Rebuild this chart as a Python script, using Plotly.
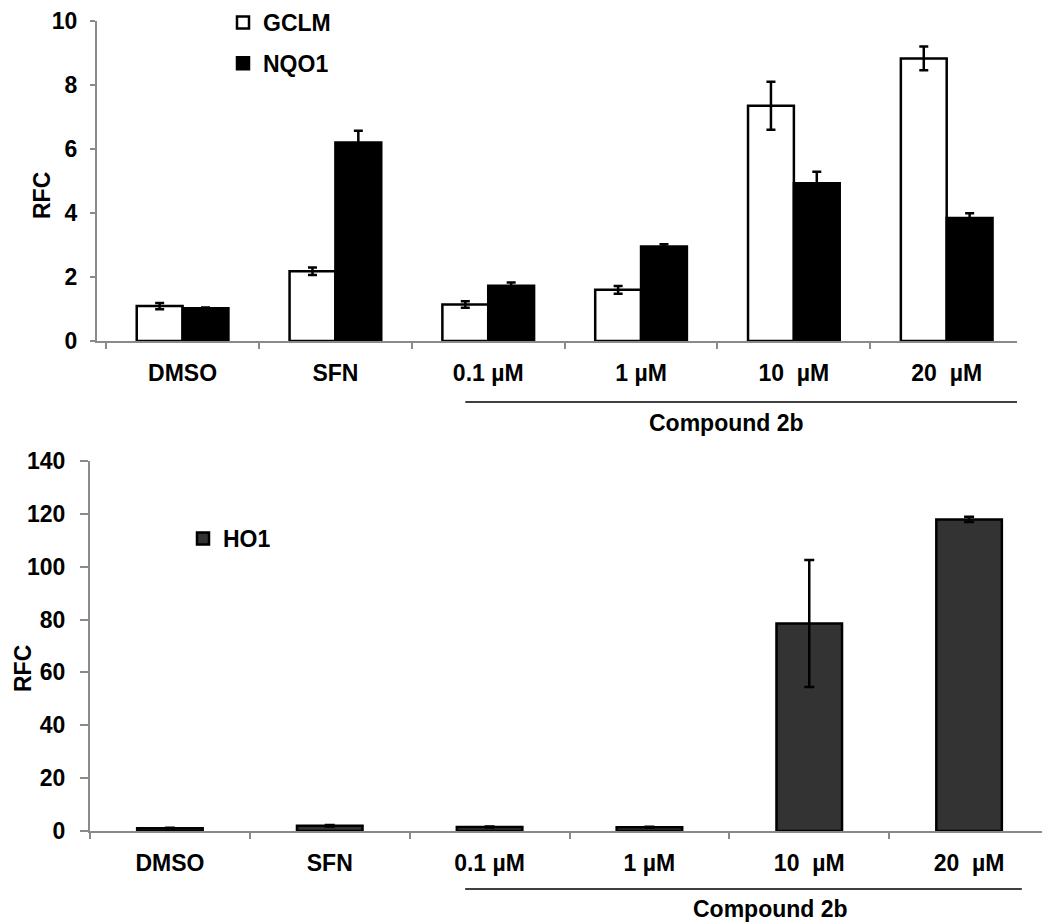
import plotly.graph_objects as go

categories = ["DMSO", "SFN", "0.1 µM", "1 µM", "10\u00a0 µM", "20\u00a0 µM"]
gclm = [1.09, 2.18, 1.14, 1.60, 7.35, 8.83]
gclm_err = [0.10, 0.12, 0.10, 0.12, 0.75, 0.37]
nqo1 = [1.02, 6.20, 1.73, 2.95, 4.93, 3.84]
nqo1_err = [0.03, 0.37, 0.10, 0.07, 0.36, 0.15]
ho1 = [1.0, 2.0, 1.5, 1.4, 78.5, 117.9]
ho1_err = [0.2, 0.3, 0.2, 0.2, 24.0, 1.0]
top_ticks = [0, 2, 4, 6, 8, 10]
bottom_ticks = [0, 20, 40, 60, 80, 100, 120, 140]
group_label = "Compound 2b"

# page body has an 8px margin; positions below are in window pixels
OFF = 8
W, H = 1042, 916
FONT = "Liberation Sans, Arial, Helvetica, sans-serif"
GRAY = "#8a8a8a"
FS = 23

def px_x(p):
    return (p - OFF) / W

def px_y(p):
    return 1 - (p - OFF) / H

fig = go.Figure()

err_style = dict(type="data", visible=True, color="black", thickness=2.5, width=4.5)

fig.add_trace(go.Bar(
    x=categories, y=gclm, name="GCLM", xaxis="x", yaxis="y",
    marker=dict(color="white", line=dict(color="black", width=2.5)),
    error_y=dict(array=gclm_err, **err_style), legend="legend",
    legendgroup="g1",
))
fig.add_trace(go.Bar(
    x=categories, y=nqo1, name="NQO1", xaxis="x", yaxis="y",
    marker=dict(color="black", line=dict(color="black", width=2.5)),
    error_y=dict(array=nqo1_err, **err_style), legend="legend",
    legendgroup="g2",
))
fig.add_trace(go.Bar(
    x=categories, y=ho1, name="HO1", xaxis="x2", yaxis="y2", width=0.41,
    marker=dict(color="#333333", line=dict(color="black", width=2.5)),
    error_y=dict(array=ho1_err, type="data", visible=True, color="black", thickness=2.5, width=5),
    legend="legend2",
))

tf = dict(family=FONT, size=FS, color="black", weight="bold")
axis_common = dict(showline=True, linecolor=GRAY, linewidth=2, showgrid=False,
                   zeroline=False, ticks="outside", tickcolor=GRAY, tickwidth=2,
                   automargin=False, tickfont=tf)

fig.update_layout(
    width=W, height=H,
    margin=dict(l=0, r=0, t=0, b=0, autoexpand=False),
    paper_bgcolor="white", plot_bgcolor="white",
    font=tf,
    barmode="group", bargap=0.4, bargroupgap=0,
    xaxis=dict(domain=[px_x(97), px_x(1017)], anchor="y", type="category",
               range=[-0.56, 5.46],
               tickson="boundaries", ticklen=6, ticklabelstandoff=10, **axis_common),
    yaxis=dict(domain=[px_y(341), px_y(21)], anchor="x", range=[0, 10],
               tickvals=top_ticks, ticklen=5, ticklabelstandoff=8,
               ticklabeloverflow="allow", **axis_common),
    xaxis2=dict(domain=[px_x(90), px_x(1049)], anchor="y2", type="category",
                tickson="boundaries", ticklen=6, ticklabelstandoff=10, **axis_common),
    yaxis2=dict(domain=[px_y(831), px_y(461)], anchor="x2", range=[0, 140],
                tickvals=bottom_ticks, ticklen=8, ticklabelstandoff=10,
                ticklabeloverflow="allow", **axis_common),
    legend=dict(x=px_x(223), y=px_y(1), xanchor="left", yanchor="top",
                bgcolor="rgba(0,0,0,0)", tracegroupgap=8, itemwidth=30, font=tf),
    legend2=dict(x=px_x(183), y=px_y(517), xanchor="left", yanchor="top",
                 bgcolor="rgba(0,0,0,0)", itemwidth=30, font=tf),
    showlegend=True,
)

annotations = [
    dict(text="RFC", x=px_x(42), y=px_y(196), xref="paper", yref="paper",
         xanchor="center", yanchor="middle",
         textangle=-90, showarrow=False, font=tf),
    dict(text="RFC", x=px_x(23), y=px_y(669), xref="paper", yref="paper",
         xanchor="center", yanchor="middle",
         textangle=-90, showarrow=False, font=tf),
    dict(text=group_label, x=3.56, y=px_y(423), xref="x", yref="paper",
         xanchor="center", yanchor="middle", showarrow=False, font=tf),
    dict(text=group_label, x=3.755, y=px_y(909), xref="x2", yref="paper",
         xanchor="center", yanchor="middle", showarrow=False, font=tf),
]
fig.update_layout(annotations=annotations)

shapes = [
    dict(type="line", xref="x", yref="paper", x0=1.85, x1=5.46,
         y0=px_y(402), y1=px_y(402), line=dict(color="black", width=1.5)),
    dict(type="line", xref="x2", yref="paper", x0=1.847, x1=5.33,
         y0=px_y(889), y1=px_y(889), line=dict(color="black", width=1.5)),
]
fig.update_layout(shapes=shapes)

fig.write_html("out.html")
